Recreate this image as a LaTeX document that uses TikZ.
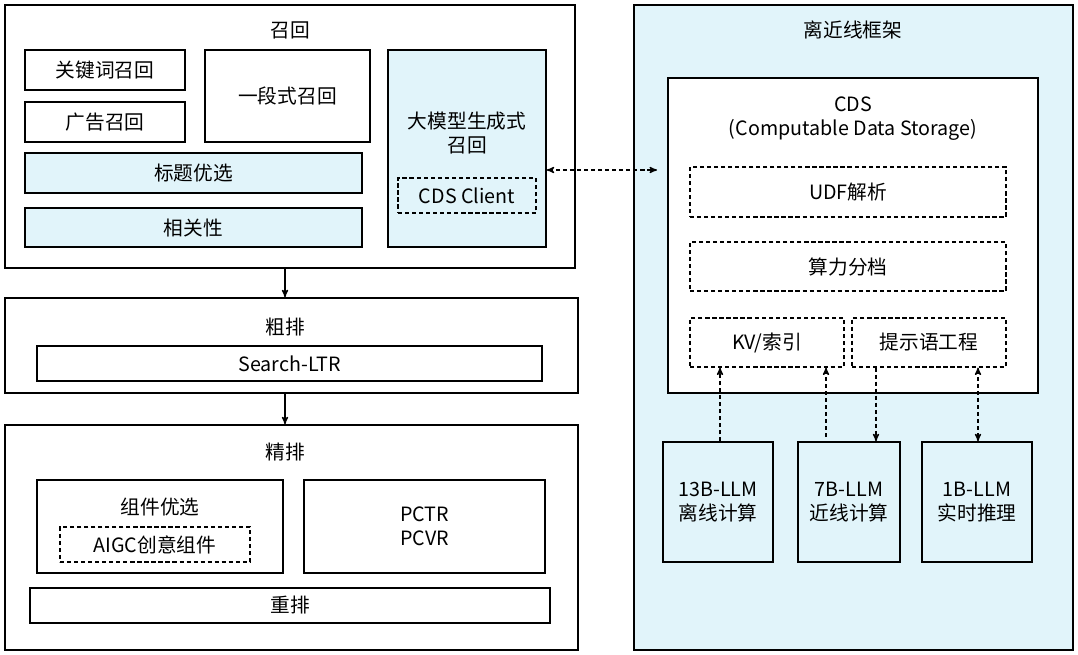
\documentclass[tikz,border=0pt]{standalone}
\usepackage{fontspec}
\setmainfont{Noto Sans CJK SC}
\usetikzlibrary{positioning, arrows}
\definecolor{lightblue}{HTML}{E1F4FA}
\newcommand\pu{0.025cm}
\tikzset{
  box/.style={draw, line width=1pt, shape=rectangle, align=center, inner sep=0pt},
  fbox/.style={box, fill=lightblue},
  dbox/.style={box, dash pattern=on 3pt off 2pt, line width=0.8pt},
  lbl/.style={inner sep=1pt, align=center},
  darr/.style={line width=0.9pt, dash pattern=on 3pt off 2pt},
}
\begin{document}
\begin{tikzpicture}[x=\pu,y=-\pu,>=stealth',line width=0.9pt,font=\fontsize{14}{17}\selectfont]
  \useasboundingbox (0,0) rectangle (1078,654);

  % left column
  \node[box, minimum width=570*\pu, minimum height=263*\pu] (recall) at (290,136.5) {};
  \node[lbl] (recallt) at (290,30) {召回};
  \node[box, minimum width=160*\pu, minimum height=40*\pu] (kw) at (105,70) {关键词召回};
  \node[box, minimum width=160*\pu, minimum height=40*\pu] (ad) at (105,122) {广告召回};
  \node[box, minimum width=165*\pu, minimum height=92*\pu] (one) at (287.5,96) {一段式召回};
  \node[fbox, minimum width=337*\pu, minimum height=40*\pu] (title) at (193.5,173) {标题优选};
  \node[fbox, minimum width=337*\pu, minimum height=39*\pu] (rel) at (193.5,227.5) {相关性};
  \node[fbox, minimum width=158*\pu, minimum height=197*\pu] (gen) at (467,148.5) {};
  \node[lbl] at (467,133) {大模型生成式\\召回};
  \node[dbox, minimum width=138*\pu, minimum height=35*\pu] (client) at (467,195.5) {CDS Client};

  \node[box, minimum width=573*\pu, minimum height=95*\pu] (coarse) at (291.5,345.5) {};
  \node[lbl] at (285,327) {粗排};
  \node[box, minimum width=505*\pu, minimum height=35*\pu] (ltr) at (289.5,363.5) {Search-LTR};

  \node[box, minimum width=573*\pu, minimum height=225*\pu] (fine) at (291.5,537.5) {};
  \node[lbl] at (285,452) {精排};
  \node[box, minimum width=246*\pu, minimum height=93*\pu] (comp) at (160,526.5) {};
  \node[lbl] at (160,507) {组件优选};
  \node[dbox, minimum width=190*\pu, minimum height=35*\pu] (aigc) at (155,544.5) {AIGC创意组件};
  \node[box, minimum width=241*\pu, minimum height=93*\pu] (pctr) at (424.5,526.5) {PCTR\\PCVR};
  \node[box, minimum width=520*\pu, minimum height=35*\pu] (rerank) at (290,605.5) {重排};

  \draw[->] (recall.south -| 285,0) -- (coarse.north -| 285,0);
  \draw[->] (coarse.south -| 285,0) -- (fine.north -| 285,0);

  % right column
  \node[fbox, minimum width=439*\pu, minimum height=645*\pu] (frame) at (853.5,327.5) {};
  \node[lbl] at (853,30) {离近线框架};
  \node[box, fill=white, minimum width=370*\pu, minimum height=315*\pu] (cds) at (853,235.5) {};
  \node[lbl] at (853,119) {CDS\\(Computable Data Storage)};
  \node[dbox, minimum width=316*\pu, minimum height=50*\pu] (udf) at (848,192) {UDF解析};
  \node[dbox, minimum width=316*\pu, minimum height=49*\pu] (tier) at (848,266.5) {算力分档};
  \node[dbox, minimum width=154*\pu, minimum height=49*\pu] (kv) at (767,342.5) {KV/索引};
  \node[dbox, minimum width=154*\pu, minimum height=49*\pu] (prompt) at (929,342.5) {提示语工程};

  \node[box, minimum width=110*\pu, minimum height=120*\pu] (l13) at (718,502) {13B-LLM\\离线计算};
  \node[box, minimum width=102*\pu, minimum height=120*\pu] (l7) at (849,502) {7B-LLM\\近线计算};
  \node[box, minimum width=110*\pu, minimum height=120*\pu] (l1) at (977,502) {1B-LLM\\实时推理};

  \draw[->, darr] (l13.north -| 720,0) -- (kv.south -| 720,0);
  \coordinate (a7) at (826,437);
  \draw[->, darr] (a7) -- (kv.south -| 826,0);
  \draw[->, darr] (prompt.south -| 876,0) -- (l7.north -| 876,0);
  \draw[<->, darr] (prompt.south -| 978,0) -- (l1.north -| 978,0);

  \coordinate (cdsl) at (657,170);
  \draw[<->, darr] (gen.east |- 0,170) -- (cdsl);
\end{tikzpicture}
\end{document}
